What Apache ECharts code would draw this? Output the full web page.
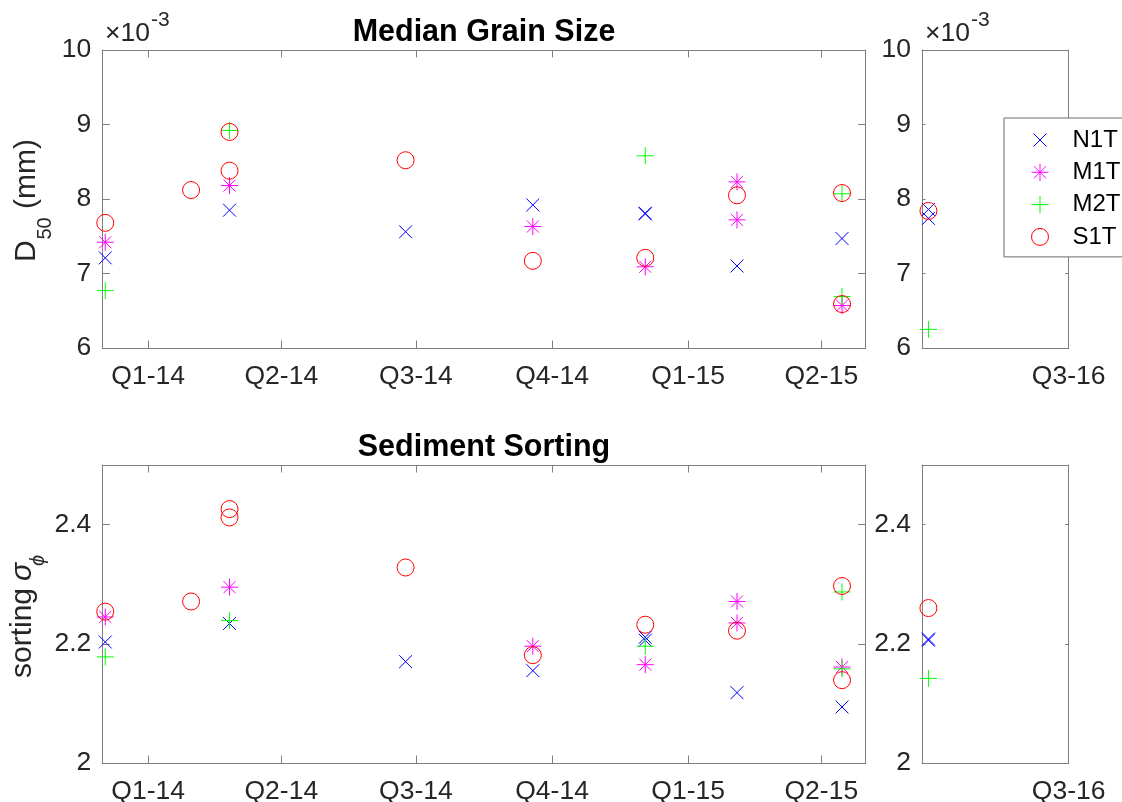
<!DOCTYPE html>
<html>
<head>
<meta charset="utf-8">
<script src="https://cdn.jsdelivr.net/npm/echarts@6/dist/echarts.min.js"></script>
<style>
  html, body { margin: 0; padding: 0; background: #fff; }
  #chart { width: 1122px; height: 802px; }
</style>
</head>
<body>
<div id="chart"></div>
<script>
// ---- sample data: dates of each sample, D50 in mm, sorting in phi ----
const n1tDates = ['2013-12-03','2014-02-25','2014-06-24','2014-09-18','2014-12-03','2014-12-03','2015-02-03','2015-04-15','2016-04-05','2016-04-05'];
const n1tD50   = [0.00721, 0.00785, 0.00756, 0.00792, 0.00781, 0.00780, 0.00710, 0.00747, 0.00786, 0.00774];
const n1tSort  = [2.203, 2.234, 2.170, 2.155, 2.211, 2.206, 2.118, 2.094, 2.208, 2.206];

const m1tDates = ['2013-12-03','2014-02-25','2014-09-18','2014-12-03','2015-02-03','2015-02-03','2015-04-15'];
const m1tD50   = [0.00742, 0.00818, 0.00763, 0.00709, 0.00823, 0.00772, 0.00657];
const m1tSort  = [2.245, 2.295, 2.196, 2.165, 2.271, 2.235, 2.161];

const m2tDates = ['2013-12-03','2014-02-25','2014-12-03','2015-04-15','2015-04-15','2016-04-05'];
const m2tD50   = [0.00677, 0.00892, 0.00858, 0.00807, 0.00669, 0.00625];
const m2tSort  = [2.178, 2.239, 2.196, 2.287, 2.158, 2.142];

const s1tDates = ['2013-12-03','2014-01-30','2014-02-25','2014-02-25','2014-06-24','2014-09-18','2014-12-03','2015-02-03','2015-04-15','2015-04-15','2016-04-05'];
const s1tD50   = [0.00768, 0.00812, 0.00890, 0.00838, 0.00852, 0.00717, 0.00721, 0.00805, 0.00808, 0.00659, 0.00784];
const s1tSort  = [2.254, 2.271, 2.426, 2.412, 2.328, 2.181, 2.232, 2.222, 2.297, 2.139, 2.260];

// ---- axis ticks and labels ----
const quarterTicks  = ['2014-01-01','2014-04-01','2014-07-01','2014-10-01','2015-01-01','2015-04-01'];
const quarterLabels = ['Q1-14','Q2-14','Q3-14','Q4-14','Q1-15','Q2-15'];
const lateTicks     = ['2016-07-01'];
const lateLabels    = ['Q3-16'];
const earlyRange    = ['2013-12-01','2015-05-01'];
const lateRange     = ['2016-04-01','2016-07-01'];
const d50Ticks      = [0.006, 0.007, 0.008, 0.009, 0.010];
const sortTicks     = [2, 2.2, 2.4];

const FONT = '"Liberation Sans", Arial, Helvetica, sans-serif';
const AXIS_GRAY = '#7f7f7f';
const TEXT_DARK = '#262626';

// dates become day numbers (UTC days) on a plain value axis
function day(s) {
  const p = s.split('-').map(Number);
  return Date.UTC(p[0], p[1] - 1, p[2]) / 86400000;
}

// marker shapes (stroked, unfilled)
const X_MARK = 'path://M0,0M20,20M2.4,2.4L17.6,17.6M17.6,2.4L2.4,17.6';
const STAR   = 'path://M10,0L10,20M0,10L20,10M2.93,2.93L17.07,17.07M17.07,2.93L2.93,17.07';
const PLUS   = 'path://M10,0L10,20M0,10L20,10';

const transects = [
  { name: 'N1T', dates: n1tDates, d50: n1tD50, sort: n1tSort, symbol: X_MARK,   color: '#0000ff' },
  { name: 'M1T', dates: m1tDates, d50: m1tD50, sort: m1tSort, symbol: STAR,     color: '#ff00ff' },
  { name: 'M2T', dates: m2tDates, d50: m2tD50, sort: m2tSort, symbol: PLUS,     color: '#00ff00' },
  { name: 'S1T', dates: s1tDates, d50: s1tD50, sort: s1tSort, symbol: 'circle', color: '#ff0000' }
];

// four panels: wide 2014-15 panels and narrow 2016 panels
const LEFT_X = 102.3, LEFT_W = 763.4, RIGHT_X = 922, RIGHT_W = 146.7, PANEL_H = 298;
const panels = [
  { left: LEFT_X,  top: 50,  width: LEFT_W,  range: earlyRange, xt: quarterTicks, xl: quarterLabels, field: 'd50',  tickLen: 7.5 },
  { left: RIGHT_X, top: 50,  width: RIGHT_W, range: lateRange,  xt: lateTicks,    xl: lateLabels,    field: 'd50',  tickLen: 3.5 },
  { left: LEFT_X,  top: 465, width: LEFT_W,  range: earlyRange, xt: quarterTicks, xl: quarterLabels, field: 'sort', tickLen: 7.5 },
  { left: RIGHT_X, top: 465, width: RIGHT_W, range: lateRange,  xt: lateTicks,    xl: lateLabels,    field: 'sort', tickLen: 3.5 }
];

const grids = [], xAxes = [], yAxes = [], series = [];
const axisLine = { show: true, onZero: false, lineStyle: { color: AXIS_GRAY, width: 1 } };

panels.forEach((p, gi) => {
  grids.push({ left: p.left, top: p.top, width: p.width, height: PANEL_H, outerBoundsMode: 'none', containLabel: false });
  const xMin = day(p.range[0]), xMax = day(p.range[1]);
  const xTickVals = p.xt.map(day);
  const isD50 = p.field === 'd50';
  const yTickVals = isD50 ? d50Ticks : sortTicks;
  const yMin = isD50 ? 0.006 : 2, yMax = isD50 ? 0.010 : 2.5;

  const xLabel = {
    show: true, customValues: xTickVals, fontSize: 26.5, fontFamily: FONT, color: TEXT_DARK, margin: 15,
    formatter: v => { const i = xTickVals.indexOf(v); return i >= 0 ? p.xl[i] : ''; }
  };
  const xTick = { show: true, inside: true, length: p.tickLen, customValues: xTickVals, lineStyle: { color: AXIS_GRAY, width: 1 } };
  xAxes.push({ type: 'value', gridIndex: gi, position: 'bottom', min: xMin, max: xMax, axisLine, axisTick: xTick, axisLabel: xLabel, splitLine: { show: false } });
  xAxes.push({ type: 'value', gridIndex: gi, position: 'top', min: xMin, max: xMax, axisLine, axisTick: xTick, axisLabel: { show: false }, splitLine: { show: false } });

  const yLabel = {
    show: true, customValues: yTickVals, fontSize: 26.5, fontFamily: FONT, color: TEXT_DARK, margin: 11,
    formatter: v => isD50 ? String(Math.round(v * 1000)) : (Math.round(v * 10) / 10).toString()
  };
  const yTick = { show: true, inside: true, length: p.tickLen, customValues: yTickVals, lineStyle: { color: AXIS_GRAY, width: 1 } };
  yAxes.push({ type: 'value', gridIndex: gi, position: 'left', min: yMin, max: yMax, axisLine, axisTick: yTick, axisLabel: yLabel, splitLine: { show: false } });
  yAxes.push({ type: 'value', gridIndex: gi, position: 'right', min: yMin, max: yMax, axisLine, axisTick: yTick, axisLabel: { show: false }, splitLine: { show: false } });

  transects.forEach(t => {
    const vals = t[p.field];
    const data = [];
    t.dates.forEach((d, i) => {
      const x = day(d);
      if (x >= xMin && x <= xMax) data.push([x, vals[i]]);
    });
    series.push({
      name: t.name, type: 'scatter', xAxisIndex: gi * 2, yAxisIndex: gi * 2,
      data, symbol: t.symbol, symbolSize: 17, symbolKeepAspect: true,
      itemStyle: { color: 'rgba(0,0,0,0)', borderColor: t.color, borderWidth: 1, opacity: 1 },
      emphasis: { disabled: true }, silent: true, clip: false
    });
  });
});

// titles, axis names and exponent notes
const graphics = [
  { type: 'text', x: 484, y: 32.3, silent: true, style: { text: 'Median Grain Size', fontSize: 30.5, fontWeight: 'bold', fontFamily: FONT, fill: '#000', align: 'center', verticalAlign: 'middle' } },
  { type: 'text', x: 484, y: 447.3, silent: true, style: { text: 'Sediment Sorting', fontSize: 30.5, fontWeight: 'bold', fontFamily: FONT, fill: '#000', align: 'center', verticalAlign: 'middle' } },

  { type: 'text', x: 105, y: 34, silent: true, style: { text: '\u00d710', fontSize: 26.5, fontFamily: FONT, fill: TEXT_DARK, align: 'left', verticalAlign: 'middle' } },
  { type: 'text', x: 151, y: 20, silent: true, style: { text: '-3', fontSize: 21, fontFamily: FONT, fill: TEXT_DARK, align: 'left', verticalAlign: 'middle' } },
  { type: 'text', x: 925, y: 34, silent: true, style: { text: '\u00d710', fontSize: 26.5, fontFamily: FONT, fill: TEXT_DARK, align: 'left', verticalAlign: 'middle' } },
  { type: 'text', x: 971, y: 20, silent: true, style: { text: '-3', fontSize: 21, fontFamily: FONT, fill: TEXT_DARK, align: 'left', verticalAlign: 'middle' } },

  { type: 'text', x: 26.3, y: 262, rotation: Math.PI / 2, silent: true, style: { text: 'D', fontSize: 30, fontFamily: FONT, fill: TEXT_DARK, align: 'left', verticalAlign: 'middle' } },
  { type: 'text', x: 45.2, y: 239.5, rotation: Math.PI / 2, silent: true, style: { text: '50', fontSize: 20, fontFamily: FONT, fill: TEXT_DARK, align: 'left', verticalAlign: 'middle' } },
  { type: 'text', x: 26.3, y: 209, rotation: Math.PI / 2, silent: true, style: { text: '(mm)', fontSize: 30, fontFamily: FONT, fill: TEXT_DARK, align: 'left', verticalAlign: 'middle' } },

  { type: 'text', x: 23, y: 588, rotation: Math.PI / 2, silent: true, style: { text: 'sorting', fontSize: 30, fontFamily: FONT, fill: TEXT_DARK, align: 'right', verticalAlign: 'middle' } },
  { type: 'text', x: 23, y: 581, rotation: Math.PI / 2, silent: true, style: { text: '\u03c3', fontSize: 30, fontStyle: 'italic', fontFamily: FONT, fill: TEXT_DARK, align: 'left', verticalAlign: 'middle' } },
  { type: 'text', x: 38.5, y: 566, rotation: Math.PI / 2, silent: true, style: { text: '\u03d5', fontSize: 20, fontStyle: 'italic', fontFamily: FONT, fill: TEXT_DARK, align: 'left', verticalAlign: 'middle' } }
];

const chart = echarts.init(document.getElementById('chart'), null, { renderer: 'canvas' });
chart.setOption({
  animation: false,
  backgroundColor: '#fff',
  textStyle: { fontFamily: FONT },
  grid: grids,
  xAxis: xAxes,
  yAxis: yAxes,
  legend: {
    orient: 'vertical', left: 1004, top: 118,
    data: transects.map(t => t.name),
    itemWidth: 17, itemHeight: 17, itemGap: 6.3,
    padding: [9, 40, 7, 27],
    backgroundColor: '#fff', borderColor: '#6b6b6b', borderWidth: 1, borderRadius: 0,
    textStyle: { fontSize: 24, fontFamily: FONT, color: '#000', lineHeight: 26, padding: [0, 0, 0, 19] },
    itemStyle: { borderWidth: 1 },
    selectedMode: false
  },
  tooltip: { show: false },
  graphic: graphics,
  series
});
</script>
</body>
</html>
